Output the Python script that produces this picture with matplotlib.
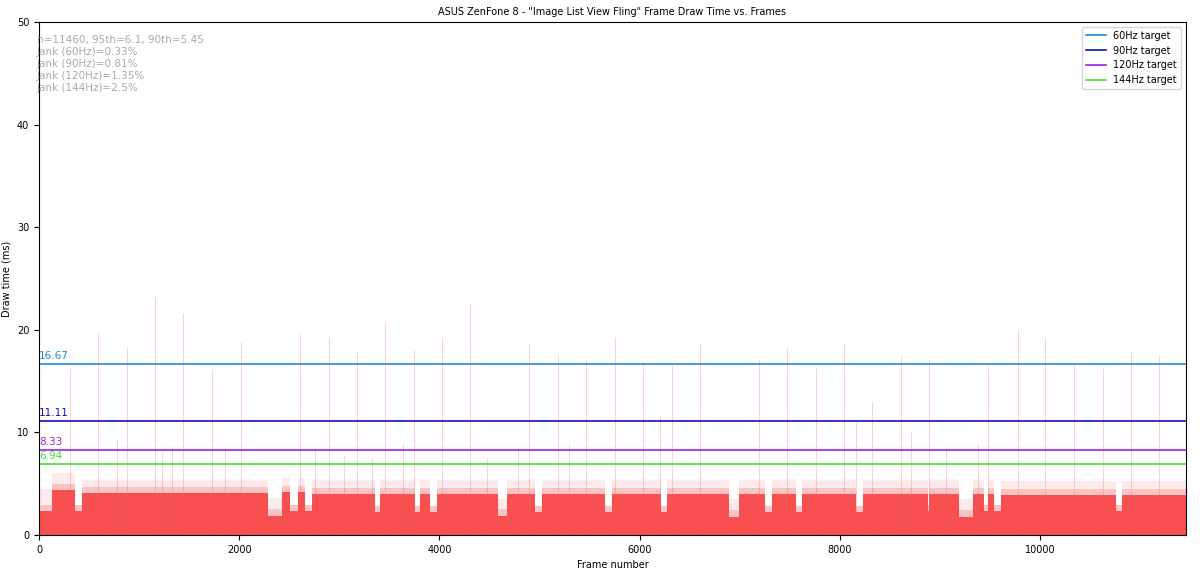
import numpy as np
import matplotlib
matplotlib.use("Agg")
import matplotlib.pyplot as plt

# solid body of the draw-time bars, read as runs of frames: start, end, level (ms)
seg_start = [0, 130, 360, 430, 2290, 2430, 2510, 2590, 2660, 2730, 3360, 3410, 3760, 3810,
             3910, 3980, 4590, 4680, 4960, 5030, 5660, 5730, 6210, 6270, 6890, 6990, 7250,
             7320, 7560, 7620, 8160, 8230, 8880, 8895, 9190, 9330, 9440, 9480, 9540, 9610,
             10760, 10820]
seg_end = seg_start[1:] + [11460]
seg_level = [2.3, 4.4, 2.3, 4.1, 1.9, 4.2, 2.3, 4.2, 2.3, 4.0, 2.2, 4.0, 2.2, 4.0,
             2.2, 4.0, 1.9, 4.0, 2.2, 4.0, 2.2, 4.0, 2.2, 4.0, 1.8, 4.0, 2.2,
             4.0, 2.2, 4.0, 2.2, 4.0, 2.3, 4.0, 1.8, 4.0, 2.3, 4.0, 2.3, 3.9,
             2.3, 3.9]
# the lighter, thin-bar fringe above the body
seg_haze = [4.5, 6.0, 2.7, 5.4, 3.6, 5.6, 2.8, 5.6, 2.8, 5.4, 2.6, 5.4, 2.6, 5.4,
            2.6, 5.4, 3.5, 5.4, 2.6, 5.4, 2.6, 5.4, 2.6, 5.4, 3.5, 5.4, 2.6,
            5.4, 2.6, 5.4, 2.6, 5.4, 2.6, 5.4, 3.5, 5.4, 2.6, 5.4, 2.6, 5.3,
            2.6, 5.3]

# isolated long frames (frame number, ms)
spike_frame = [310, 593, 777, 877, 1160, 1227, 1327, 1443, 1727, 1860, 2017, 2603, 2760,
               2900, 3050, 3177, 3330, 3460, 3640, 3743, 4027, 4310, 4480, 4790, 4900,
               5187, 5300, 5467, 5753, 6033, 6203, 6320, 6600, 7193, 7477, 7760, 8043,
               8160, 8327, 8613, 8710, 8893, 9060, 9387, 9483, 9777, 10053, 10343,
               10627, 10910, 11193]
spike_ms = [16.3, 19.7, 9.3, 18.3, 23.2, 8.0, 8.6, 21.6, 16.1, 8.5, 18.8, 19.7, 8.5,
            19.3, 7.8, 17.9, 7.5, 20.7, 8.9, 18.0, 19.3, 22.6, 7.5, 8.5, 18.7,
            17.5, 8.9, 17.1, 19.3, 16.8, 11.7, 16.6, 18.7, 17.1, 18.2, 16.3, 18.7,
            11.0, 13.0, 17.5, 10.0, 17.1, 8.5, 9.0, 16.6, 20.0, 19.2, 16.6,
            16.3, 17.9, 17.4]

targets = [16.67, 11.11, 8.33, 6.94]
target_labels = ["60Hz target", "90Hz target", "120Hz target", "144Hz target"]
target_colors = ["#1f8ad6", "#0d10b0", "#a020e8", "#40e030"]

stats_text = ("n=11460, 95th=6.1, 90th=5.45\n"
              "Jank (60Hz)=0.33%\n"
              "Jank (90Hz)=0.81%\n"
              "Jank (120Hz)=1.35%\n"
              "Jank (144Hz)=2.5%")

plt.rcParams['font.size'] = 7
fig = plt.figure(figsize=(12, 5.73), dpi=100)
ax = fig.add_axes([0.0325, 0.0663, 0.9558, 0.8953])

widths = np.array(seg_end) - np.array(seg_start)
ax.bar(seg_start, seg_haze, width=widths, align='edge', color='#fdeaea', linewidth=0)
ax.bar(seg_start, np.array(seg_level) + 0.6, width=widths, align='edge',
       color='#fbc4c4', linewidth=0)
ax.vlines(spike_frame, 0, spike_ms, colors='#f06060', linewidth=0.7, alpha=0.3)
ax.bar(seg_start, seg_level, width=widths, align='edge', color='#f85050', linewidth=0)

for t, lab, c in zip(targets, target_labels, target_colors):
    ax.axhline(t, color=c, linewidth=1.2, label=lab)
    ax.text(0, t + 0.25, "%.2f" % t, color=c, fontsize=7.5, ha='left', va='bottom')

ax.text(-20, 48.7, stats_text, color='#aaaaaa', fontsize=7.5, ha='left', va='top',
        linespacing=1.25)

ax.set_xlim(0, 11460)
ax.set_ylim(0, 50)
ax.set_xticks([0, 2000, 4000, 6000, 8000, 10000])
ax.set_yticks([0, 10, 20, 30, 40, 50])
ax.set_xlabel('Frame number')
ax.set_ylabel('Draw time (ms)')
ax.set_title('ASUS ZenFone 8 - "Image List View Fling" Frame Draw Time vs. Frames',
             fontsize=7, pad=5)
ax.legend(loc='upper right', fontsize=7)

fig.savefig('out.png', dpi=100)
